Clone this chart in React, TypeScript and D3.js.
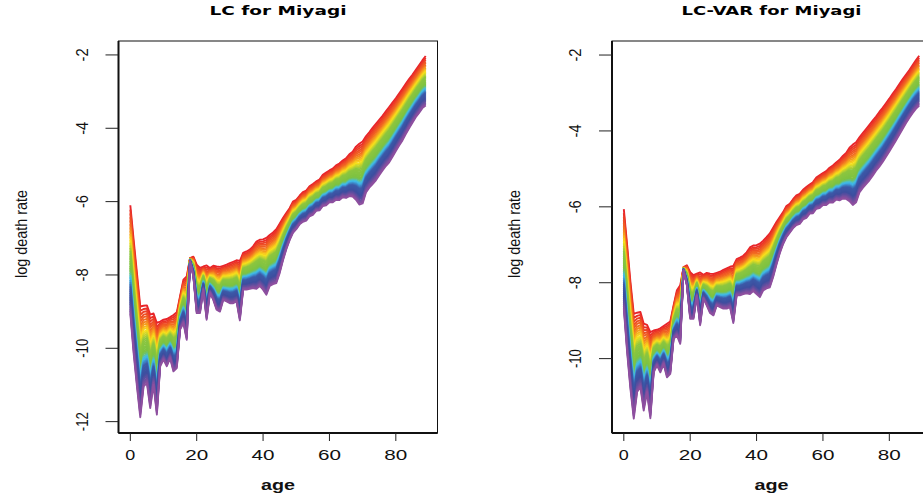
import React from 'react';
import * as d3 from 'd3';

// ---------- data ----------
const ages = d3.range(0, 90);
const years = d3.range(1975, 2017);
// period index k(t), rescaled 0 (first year) .. 1 (last year)
const kt = [0, 0.04, 0.075, 0.11, 0.14, 0.175, 0.205, 0.235, 0.265, 0.29, 0.32, 0.345, 0.37, 0.395,
  0.42, 0.445, 0.47, 0.49, 0.515, 0.535, 0.56, 0.58, 0.6, 0.625, 0.645, 0.665, 0.69, 0.71, 0.73,
  0.75, 0.77, 0.79, 0.81, 0.83, 0.85, 0.87, 0.89, 0.91, 0.935, 0.955, 0.975, 1.0];

// LC: fitted log death rate, first year (top) and last year (bottom)
const lcFirst = [-6.10, -7.04, -7.95, -8.86, -8.84, -8.83, -9.08, -9.05, -9.31, -9.27,
  -9.22, -9.20, -9.15, -9.09, -9.02, -8.58, -8.13, -8.04, -7.54, -7.50,
  -7.72, -7.81, -7.77, -7.74, -7.81, -7.75, -7.77, -7.78, -7.75, -7.72,
  -7.68, -7.64, -7.60, -7.62, -7.40, -7.36, -7.31, -7.22, -7.09, -7.04,
  -7.03, -6.99, -6.91, -6.84, -6.75, -6.60, -6.45, -6.31, -6.18, -6.00,
  -5.95, -5.84, -5.74, -5.70, -5.58, -5.52, -5.45, -5.40, -5.27, -5.21,
  -5.15, -5.10, -5.01, -4.96, -4.88, -4.82, -4.71, -4.64, -4.50, -4.42,
  -4.36, -4.22, -4.11, -3.99, -3.88, -3.77, -3.66, -3.54, -3.42, -3.30,
  -3.18, -3.05, -2.92, -2.79, -2.66, -2.54, -2.41, -2.28, -2.15, -2.03];
const lcLast = [-9.05, -10.13, -11.04, -11.88, -11.04, -10.95, -11.63, -10.99, -11.81, -10.49,
  -10.31, -10.49, -10.27, -10.63, -10.54, -9.49, -9.31, -9.77, -7.63, -8.04,
  -9.04, -9.04, -8.40, -9.22, -8.49, -8.68, -8.95, -9.00, -8.68, -8.72,
  -8.77, -8.77, -8.72, -9.24, -8.40, -8.40, -8.38, -8.36, -8.38, -8.30,
  -8.40, -8.54, -8.30, -8.25, -8.22, -7.95, -7.60, -7.30, -7.05, -6.85,
  -6.75, -6.62, -6.55, -6.52, -6.40, -6.36, -6.25, -6.24, -6.12, -6.10,
  -6.02, -6.02, -5.95, -5.96, -5.88, -5.90, -5.85, -5.86, -5.95, -6.08,
  -6.05, -5.75, -5.62, -5.52, -5.42, -5.28, -5.15, -5.03, -4.93, -4.78,
  -4.62, -4.47, -4.33, -4.16, -4.00, -3.85, -3.70, -3.58, -3.45, -3.38];

// LC-VAR
const varFirst = [-6.06, -7.01, -7.98, -8.82, -8.79, -8.77, -9.08, -9.11, -9.30, -9.26,
  -9.24, -9.20, -9.14, -9.08, -9.02, -8.60, -8.20, -8.07, -7.59, -7.54,
  -7.72, -7.80, -7.76, -7.73, -7.79, -7.74, -7.76, -7.77, -7.74, -7.71,
  -7.66, -7.62, -7.58, -7.56, -7.38, -7.34, -7.29, -7.20, -7.07, -7.02,
  -7.01, -6.97, -6.89, -6.80, -6.70, -6.55, -6.40, -6.27, -6.14, -5.98,
  -5.92, -5.80, -5.70, -5.66, -5.55, -5.48, -5.41, -5.35, -5.23, -5.17,
  -5.11, -5.06, -4.97, -4.91, -4.83, -4.76, -4.66, -4.58, -4.44, -4.36,
  -4.30, -4.17, -4.06, -3.95, -3.84, -3.73, -3.62, -3.50, -3.39, -3.27,
  -3.15, -3.02, -2.90, -2.77, -2.64, -2.52, -2.40, -2.27, -2.14, -2.02];
const varLast = [-8.68, -9.83, -10.80, -11.58, -10.88, -10.75, -11.37, -10.88, -11.57, -10.36,
  -10.18, -10.36, -10.14, -10.49, -10.40, -9.48, -9.39, -9.61, -7.67, -8.07,
  -8.95, -8.95, -8.35, -9.12, -8.42, -8.60, -8.80, -8.86, -8.60, -8.64,
  -8.68, -8.68, -8.64, -9.06, -8.33, -8.33, -8.30, -8.28, -8.30, -8.22,
  -8.30, -8.38, -8.20, -8.15, -8.12, -7.85, -7.52, -7.22, -6.98, -6.80,
  -6.68, -6.56, -6.48, -6.45, -6.33, -6.29, -6.18, -6.17, -6.05, -6.03,
  -5.95, -5.95, -5.88, -5.89, -5.81, -5.83, -5.78, -5.79, -5.85, -5.95,
  -5.88, -5.62, -5.50, -5.40, -5.30, -5.18, -5.05, -4.94, -4.82, -4.68,
  -4.54, -4.40, -4.25, -4.10, -3.95, -3.80, -3.66, -3.53, -3.42, -3.33];

const xTicks = [0, 20, 40, 60, 80];
const lcYTicks = [-2, -4, -6, -8, -10, -12];
const varYTicks = [-2, -4, -6, -8, -10];

const paletteStops = [0, 0.12, 0.24, 0.34, 0.52, 0.6, 0.7, 0.85, 1];
const paletteColors = ['#e8242a', '#f26b21', '#f9e11b', '#8dc63f', '#7cc242', '#3fbfef', '#3c5ba9', '#3d4e9f', '#8e4f9f'];

const color = d3.scaleLinear<string>().domain(paletteStops).range(paletteColors).interpolate(d3.interpolateRgb);

type PanelProps = {
  x0: number; x1: number; yDom: [number, number]; first: number[]; last: number[];
  yTicks: number[]; title: string; titleLen: number;
};

const TOP = 41, BOTTOM = 433;

function Panel({ x0, x1, yDom, first, last, yTicks, title, titleLen }: PanelProps) {
  const x = d3.scaleLinear().domain([-3.56, 92.56]).range([x0, x1]);
  const y = d3.scaleLinear().domain(yDom).range([BOTTOM, TOP]);
  const kMin = kt[0], kMax = kt[kt.length - 1];
  const line = d3.line<number>().x((_, i) => x(ages[i])).y(d => y(d));
  const cx = (x0 + x1) / 2;
  const lab = (s: string) => (s.length === 1 ? 10 : 23);
  return (
    <g>
      <g fill="none" strokeWidth={1.9} strokeLinejoin="round">
        {years.map((yr, j) => {
          const f = (kt[j] - kMin) / (kMax - kMin);
          const vals = ages.map((_, i) => first[i] + (last[i] - first[i]) * f);
          return <path key={yr} d={line(vals) || ''} stroke={color(j / (years.length - 1))} />;
        })}
      </g>
      <rect x={x0} y={TOP} width={x1 - x0} height={BOTTOM - TOP} fill="none" stroke="#111" strokeWidth={1} />
      <line x1={x0} x2={x0} y1={TOP} y2={BOTTOM} stroke="#111" strokeWidth={2} />
      <line x1={x0} x2={x1} y1={BOTTOM} y2={BOTTOM} stroke="#111" strokeWidth={2} />
      {yTicks.map(t => (
        <g key={t}>
          <line x1={x0 - 13} x2={x0} y1={y(t)} y2={y(t)} stroke="#222" strokeWidth={1} />
          <text transform={`translate(${x0 - 31},${y(t)}) rotate(-90)`} textAnchor="middle"
            fontFamily="Liberation Sans, sans-serif" fontSize={16}
            textLength={String(t).length > 2 ? 19 : 13} lengthAdjust="spacingAndGlyphs" fill="#111">{String(t)}</text>
        </g>
      ))}
      {xTicks.map(t => (
        <g key={t}>
          <line x1={x(t)} x2={x(t)} y1={BOTTOM} y2={BOTTOM + 8} stroke="#222" strokeWidth={1} />
          <text x={x(t)} y={460} textAnchor="middle" fontFamily="Liberation Sans, sans-serif" fontSize={14}
            textLength={lab(String(t))} lengthAdjust="spacingAndGlyphs" fill="#111">{String(t)}</text>
        </g>
      ))}
      <text x={cx} y={490} textAnchor="middle" fontFamily="Liberation Sans, sans-serif" fontSize={14}
        fontWeight="bold" textLength={34} lengthAdjust="spacingAndGlyphs" fill="#111">age</text>
      <text transform={`translate(${x0 - 92},${(TOP + BOTTOM) / 2 - 3}) rotate(-90)`} textAnchor="middle"
        fontFamily="Liberation Sans, sans-serif" fontSize={17} textLength={88} lengthAdjust="spacingAndGlyphs"
        fill="#111">log death rate</text>
      <text x={cx} y={15} textAnchor="middle" fontFamily="DejaVu Sans, sans-serif" fontSize={13}
        fontWeight="bold" textLength={titleLen} lengthAdjust="spacingAndGlyphs" fill="#000">{title}</text>
    </g>
  );
}

export default function App() {
  return (
    <svg width={923} height={499} style={{ position: 'absolute', left: 0, top: 0, background: '#fff' }}>
      <rect width={923} height={499} fill="#fff" />
      <Panel x0={118.5} x1={437.5} yDom={[-12.31, -1.62]} first={lcFirst} last={lcLast}
        yTicks={lcYTicks} title="LC for Miyagi" titleLen={137} />
      <Panel x0={612} x1={931} yDom={[-11.96, -1.63]} first={varFirst} last={varLast}
        yTicks={varYTicks} title="LC-VAR for Miyagi" titleLen={180} />
    </svg>
  );
}
